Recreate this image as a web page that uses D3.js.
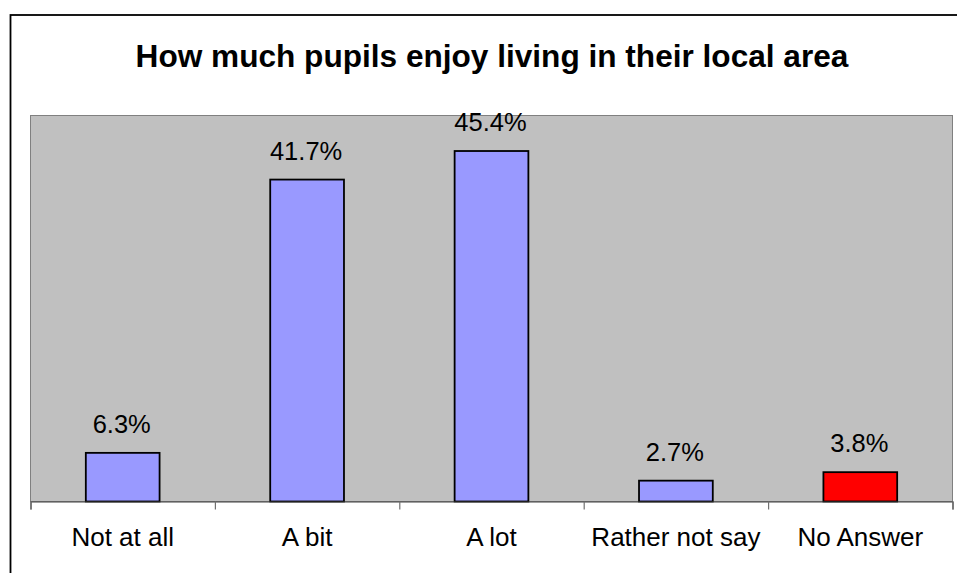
<!DOCTYPE html>
<html>
<head>
<meta charset="utf-8">
<script src="https://cdn.jsdelivr.net/npm/d3@7"></script>
<style>
  html, body { margin: 0; padding: 0; background: #fff; }
  svg { display: block; }
  text { font-family: "Liberation Sans", Arial, sans-serif; fill: #000; }
</style>
</head>
<body>
<svg id="chart" width="957" height="573"></svg>
<script>
const categories = ["Not at all", "A bit", "A lot", "Rather not say", "No Answer"];
const values = [6.3, 41.7, 45.4, 2.7, 3.8];
const labels = ["6.3%", "41.7%", "45.4%", "2.7%", "3.8%"];
const barColors = ["#9999FF", "#9999FF", "#9999FF", "#9999FF", "#FF0000"];
const title = "How much pupils enjoy living in their local area";

const svg = d3.select("#chart");

// outer chart frame (cropped at right and bottom)
svg.append("rect")
  .attr("x", 10.5).attr("y", 15).attr("width", 960).attr("height", 580)
  .attr("fill", "#fff").attr("stroke", "#000").attr("stroke-width", 1.8);

const plot = { left: 30.5, right: 952.5, top: 115.5, bottom: 501.5 };

svg.append("text")
  .attr("x", 492).attr("y", 66.5)
  .attr("text-anchor", "middle")
  .style("font-size", "31.6px").style("font-weight", "bold")
  .text(title);

const x = d3.scaleBand()
  .domain(categories)
  .range([plot.left, plot.right])
  .paddingInner(0.6).paddingOuter(0.3);

const y = d3.scaleLinear().domain([0, 50]).range([plot.bottom, plot.top]);

// plot area
svg.append("rect")
  .attr("x", plot.left).attr("y", plot.top)
  .attr("width", plot.right - plot.left).attr("height", plot.bottom - plot.top)
  .attr("fill", "#C0C0C0").attr("stroke", "#808080").attr("stroke-width", 1);

// bars
svg.append("g").selectAll("rect")
  .data(categories)
  .join("rect")
  .attr("x", d => x(d))
  .attr("y", (d, i) => y(values[i]))
  .attr("width", x.bandwidth())
  .attr("height", (d, i) => y(0) - y(values[i]))
  .attr("fill", (d, i) => barColors[i])
  .attr("stroke", "#000").attr("stroke-width", 1.8);

// data labels
svg.append("g").selectAll("text")
  .data(categories)
  .join("text")
  .attr("x", d => x(d) + x.bandwidth() / 2 - 1)
  .attr("y", (d, i) => y(values[i]) - 20)
  .attr("text-anchor", "middle")
  .style("font-size", "25.5px")
  .text((d, i) => labels[i]);

// category boundary ticks
const bounds = d3.scaleLinear().domain([0, categories.length]).range([plot.left, plot.right]);
const tickAxis = svg.append("g")
  .attr("transform", `translate(0,${plot.bottom})`)
  .call(d3.axisBottom(bounds).tickValues(d3.range(categories.length + 1)).tickSize(8).tickFormat(""));
tickAxis.select(".domain").attr("stroke", "#404040").attr("stroke-width", 1.2);
tickAxis.selectAll(".tick line").attr("stroke", "#707070").attr("stroke-width", 1.2);

// category labels
const labelAxis = svg.append("g")
  .attr("transform", `translate(0,${plot.bottom})`)
  .call(d3.axisBottom(x).tickSize(0).tickPadding(26));
labelAxis.select(".domain").remove();
labelAxis.selectAll("text")
  .style("font-size", "26px")
  .style("font-family", "'Liberation Sans', Arial, sans-serif")
  .attr("fill", "#000");
</script>
</body>
</html>
